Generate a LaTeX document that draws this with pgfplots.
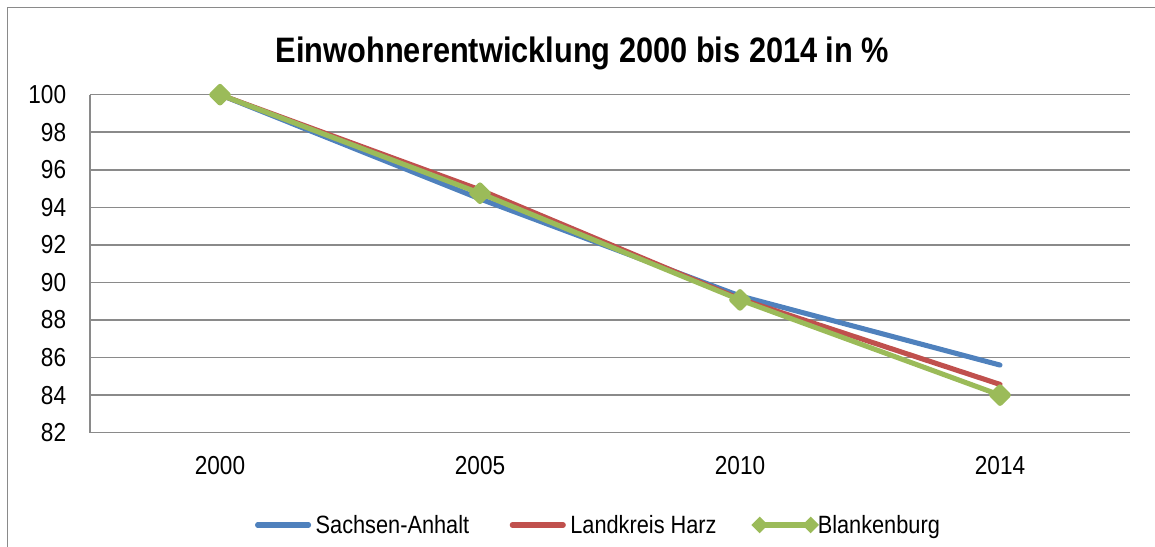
\documentclass[border=0pt]{standalone}
\usepackage{graphicx}
\usepackage{fontspec}
\setmainfont{Liberation Sans}
\usepackage{pgfplots}
\pgfplotsset{compat=1.18}
\definecolor{sa}{HTML}{4F81BD}
\definecolor{lh}{HTML}{C0504D}
\definecolor{bl}{HTML}{9BBB59}
\definecolor{gg}{HTML}{8A8A8A}
\newcommand{\nx}[1]{\scalebox{0.87}[1]{#1}}
\begin{document}
\begin{tikzpicture}
\useasboundingbox (0pt,0pt) rectangle (866.25pt,409.5pt);
\draw[gg, line width=1.1pt] (5.5pt,-2pt) -- (5.5pt,404pt) -- (870pt,404pt);
\node[anchor=base, inner sep=0pt] at (436.9pt,362.8pt)
  {\fontsize{26.5pt}{30pt}\selectfont\bfseries\nx{Einwohnerentwicklung 2000 bis 2014 in \%}};
\begin{axis}[
  at={(67.5pt,85pt)}, anchor=south west,
  scale only axis, width=780pt, height=253.5pt,
  xmin=-0.5, xmax=3.5, ymin=82, ymax=100,
  xtick={0,1,2,3},
  xticklabels={\nx{2000},\nx{2005},\nx{2010},\nx{2014}},
  ytick={82,84,86,88,90,92,94,96,98,100},
  yticklabels={\nx{82},\nx{84},\nx{86},\nx{88},\nx{90},\nx{92},\nx{94},\nx{96},\nx{98},\nx{100}},
  major tick length=0pt,
  axis x line*=bottom, axis y line*=left,
  axis line style={draw=gg, line width=1.1pt, -},
  ymajorgrids, major grid style={draw=gg, line width=1.1pt},
  ticklabel style={font=\fontsize{19.5pt}{22pt}\selectfont},
  yticklabel style={anchor=east, inner sep=0pt, xshift=-17.7pt},
  xticklabel style={anchor=base, inner sep=0pt, yshift=-31.7pt},
  clip=false,
  legend columns=3,
  legend style={draw=none, fill=none, inner sep=0pt, outer sep=0pt,
    at={(axis description cs:0.1587,-0.2731)}, anchor=west,
    font=\fontsize{18.75pt}{22pt}\selectfont,
    nodes={inner sep=0pt},
    /tikz/every odd column/.append style={column sep=3.4pt},
    /tikz/every even column/.append style={column sep=30.4pt}},
]
\addplot[sa, line width=3.8pt, line cap=round, line join=round,
  legend image code/.code={\draw[sa, line width=3.8pt, line cap=round] (0pt,0pt) -- (38.25pt,0pt);}]
  coordinates {(0,100) (1,94.45) (2,89.28) (3,85.6)};
\addlegendentry{\nx{Sachsen-Anhalt}}
\addplot[lh, line width=3.8pt, line cap=round, line join=round,
  legend image code/.code={\draw[lh, line width=3.8pt, line cap=round] (0pt,0pt) -- (38.25pt,0pt);}]
  coordinates {(0,100) (1,94.93) (2,89.12) (3,84.57)};
\addlegendentry{\nx{Landkreis Harz}}
\addplot[bl, line width=3.8pt, line join=round, mark=square*, mark size=4.4pt,
  mark options={rotate=45, draw=none, fill=bl},
  legend image code/.code={\draw[bl, line width=3.8pt] (0pt,0pt) -- (38.25pt,0pt);
    \node[overlay, fill=bl, minimum size=8.8pt, inner sep=0pt, rotate=45] at (0pt,0pt) {};
    \node[overlay, fill=bl, minimum size=8.8pt, inner sep=0pt, rotate=45] at (38.25pt,0pt) {};}]
  coordinates {(0,100) (1,94.75) (2,89.07) (3,84.0)};
\addlegendentry{\nx{Blankenburg}}
\end{axis}
\end{tikzpicture}
\end{document}
